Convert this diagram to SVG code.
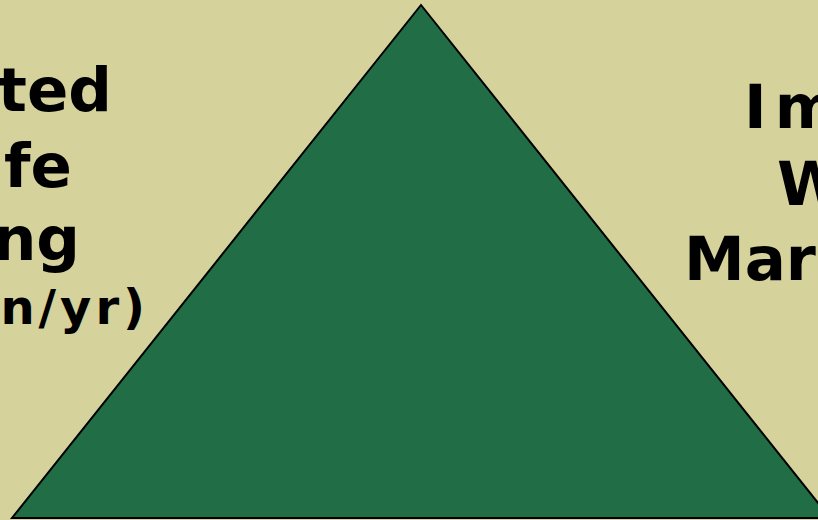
<svg xmlns="http://www.w3.org/2000/svg" width="818" height="520" viewBox="0 0 818 520">
<style>
.big{font-family:"DejaVu Sans",Verdana,sans-serif;font-weight:bold;font-size:61px;fill:#000}
.small{font-family:"DejaVu Sans",Verdana,sans-serif;font-weight:bold;font-size:48px;letter-spacing:4px;fill:#000}
</style>
<rect x="0" y="0" width="818" height="520" fill="#D5D29B"/>
<g id="triangle">
<polygon points="421,5 12,518 830,518" fill="#216D45" stroke="#000" stroke-width="2" stroke-linejoin="miter"/>
</g>
<g id="left-label">
<text class="big" x="112" y="111" text-anchor="end">ted</text>
<text class="big" x="72" y="187" text-anchor="end">fe</text>
<text class="big" x="80" y="260" text-anchor="end">ng</text>
<text class="small" x="149" y="324" text-anchor="end">n/yr)</text>
</g>
<g id="right-label">
<text class="big" x="744" y="128">I<tspan dx="8">m</tspan></text>
<text class="big" x="777" y="205">W</text>
<text class="big" x="684" y="280">Mar</text>
</g>
</svg>
